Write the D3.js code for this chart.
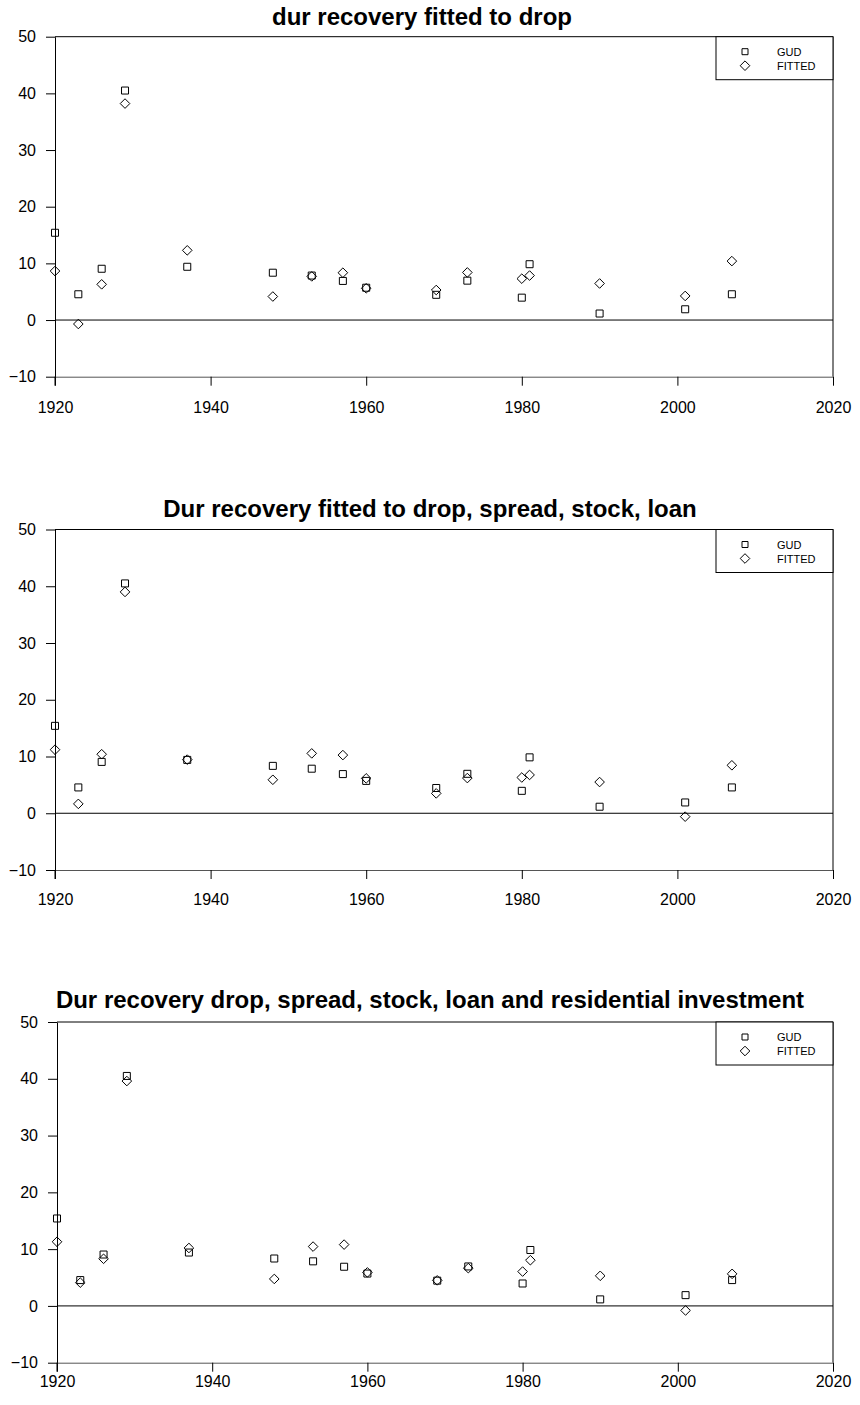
<!DOCTYPE html>
<html>
<head>
<meta charset="utf-8">
<script src="https://cdn.jsdelivr.net/npm/d3@7"></script>
<style>
  html, body { margin: 0; padding: 0; background: #fff; }
  svg { display: block; font-family: "Liberation Sans", Arial, sans-serif; }
</style>
</head>
<body>
<svg id="chart" width="860" height="1405"></svg>
<script>
// ---- data ----
const years = [1920, 1923, 1926, 1929, 1937, 1948, 1953, 1957, 1960, 1969, 1973, 1980, 1981, 1990, 2001, 2007];
const gud = [15.4, 4.55, 9.05, 40.5, 9.4, 8.35, 7.85, 6.9, 5.7, 4.45, 6.95, 3.95, 9.85, 1.15, 1.9, 4.55];
const fittedDrop = [8.65, -0.7, 6.3, 38.2, 12.3, 4.15, 7.7, 8.35, 5.6, 5.3, 8.4, 7.3, 7.85, 6.45, 4.25, 10.4];
const fittedDropSpreadStockLoan = [11.2, 1.65, 10.4, 39.0, 9.45, 5.9, 10.55, 10.25, 6.15, 3.5, 6.2, 6.3, 6.75, 5.5, -0.6, 8.45];
const fittedResidential = [11.3, 4.1, 8.3, 39.6, 10.2, 4.75, 10.45, 10.8, 5.9, 4.5, 6.65, 6.05, 8.05, 5.3, -0.8, 5.65];
const titles = [
  "dur recovery fitted to drop",
  "Dur recovery fitted to drop, spread, stock, loan",
  "Dur recovery drop, spread, stock, loan and residential investment"
];
const fittedSeries = [fittedDrop, fittedDropSpreadStockLoan, fittedResidential];
const seriesNames = ["GUD", "FITTED"];
const yTicks = [-10, 0, 10, 20, 30, 40, 50];
const xTicks = [1920, 1940, 1960, 1980, 2000, 2020];

// ---- layout per panel ----
const panels = [
  { left: 55, right: 833, top: 36.7, bottom: 376.7, titleX: 422, titleY: 16, xLabelY: 407 },
  { left: 55, right: 833, top: 529.5, bottom: 870, titleX: 430, titleY: 508, xLabelY: 899 },
  { left: 57, right: 833, top: 1022, bottom: 1362.7, titleX: 430, titleY: 999, xLabelY: 1381 }
];

const svg = d3.select("#chart");
const squarePath = s => `M${-s},${-s}H${s}V${s}H${-s}Z`;
const diamondPath = r => `M0,${-r}L${r},0L0,${r}L${-r},0Z`;

panels.forEach((p, i) => {
  const x = d3.scaleLinear().domain([1920, 2020]).range([p.left, p.right]);
  const y = d3.scaleLinear().domain([-10, 50]).range([p.bottom, p.top]);
  const g = svg.append("g");

  // title
  g.append("text")
    .attr("x", p.titleX).attr("y", p.titleY)
    .attr("text-anchor", "middle").attr("dominant-baseline", "central")
    .attr("font-weight", "bold").attr("font-size", 24)
    .text(titles[i]);

  // frame: top, right
  g.append("line").attr("x1", p.left).attr("x2", p.right).attr("y1", p.top).attr("y2", p.top)
    .attr("stroke", "#000").attr("stroke-width", 1);
  g.append("line").attr("x1", p.right).attr("x2", p.right).attr("y1", p.top).attr("y2", p.bottom)
    .attr("stroke", "#000").attr("stroke-width", 1);

  // y axis
  const yAxis = d3.axisLeft(y).tickValues(yTicks).tickSize(9).tickPadding(10).tickSizeOuter(0);
  const ya = g.append("g").attr("transform", `translate(${p.left},0)`).call(yAxis);
  ya.select(".domain").attr("stroke", "#000");
  ya.selectAll(".tick line").attr("stroke", "#000");
  ya.selectAll(".tick text").attr("font-size", 16).attr("fill", "#000")
    .attr("font-family", "'Liberation Sans', Arial, sans-serif");
  g.append("line").attr("x1", p.left).attr("x2", p.left).attr("y1", p.bottom).attr("y2", p.bottom + 9)
    .attr("stroke", "#000");

  // x axis at bottom
  const xAxis = d3.axisBottom(x).tickValues(xTicks).tickSize(9).tickSizeOuter(0).tickFormat(d3.format("d"));
  const xa = g.append("g").attr("transform", `translate(0,${p.bottom})`).call(xAxis);
  xa.select(".domain").attr("stroke", "#555");
  xa.selectAll(".tick line").attr("stroke", "#000");
  xa.selectAll(".tick text").attr("font-size", 16).attr("fill", "#000")
    .attr("font-family", "'Liberation Sans', Arial, sans-serif")
    .attr("y", p.xLabelY - p.bottom).attr("dy", "0.35em");

  // zero line
  g.append("line").attr("x1", p.left).attr("x2", p.right).attr("y1", y(0)).attr("y2", y(0))
    .attr("stroke", "#000").attr("stroke-width", 1);

  // GUD squares
  g.append("g").selectAll("path").data(years.map((yr, k) => [yr, gud[k]]))
    .join("path")
    .attr("transform", d => `translate(${x(d[0])},${y(d[1])})`)
    .attr("d", squarePath(3.5))
    .attr("fill", "none").attr("stroke", "#000").attr("stroke-width", 1);

  // FITTED diamonds
  const fitted = fittedSeries[i];
  g.append("g").selectAll("path").data(years.map((yr, k) => [yr, fitted[k]]))
    .join("path")
    .attr("transform", d => `translate(${x(d[0])},${y(d[1])})`)
    .attr("d", diamondPath(4.8))
    .attr("fill", "none").attr("stroke", "#000").attr("stroke-width", 1);

  // legend
  const lg = g.append("g");
  lg.append("rect").attr("x", 716).attr("y", p.top).attr("width", p.right - 716).attr("height", 43)
    .attr("fill", "#fff").attr("stroke", "#000").attr("stroke-width", 1);
  seriesNames.forEach((name, k) => {
    const cy = p.top + 15 + k * 14;
    lg.append("path").attr("transform", `translate(745,${cy})`)
      .attr("d", k === 0 ? squarePath(3) : diamondPath(4.8))
      .attr("fill", "none").attr("stroke", "#000");
    lg.append("text").attr("x", 777).attr("y", cy).attr("dominant-baseline", "central")
      .attr("font-size", 11).text(name);
  });
});
</script>
</body>
</html>
